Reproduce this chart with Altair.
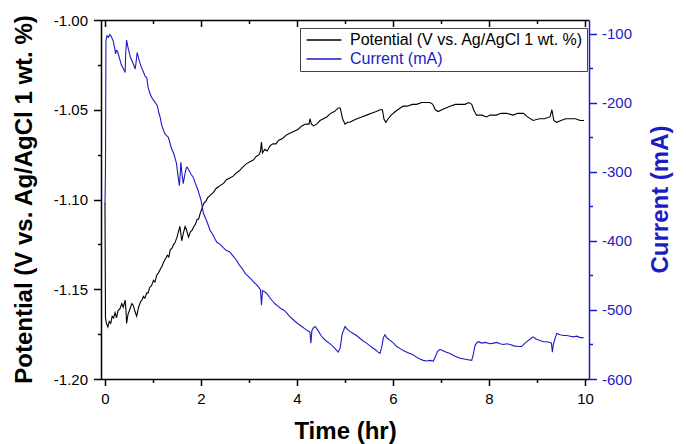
import altair as alt
import pandas as pd

POT = "Potential (V vs. Ag/AgCl 1 wt. %)"
CUR = "Current (mA)"
BLUE = "#1c1cc4"

t_pot = [0.00, 0.01, 0.03, 0.06, 0.09, 0.12, 0.15, 0.18, 0.21, 0.24, 0.27, 0.31, 0.35, 0.38, 0.42, 0.44,
         0.45, 0.48, 0.52, 0.56, 0.59, 0.62, 0.66, 0.70, 0.74, 0.77, 0.80, 0.83, 0.87, 0.90, 0.93, 0.97,
         1.01, 1.04, 1.08, 1.11, 1.15, 1.19, 1.22, 1.26, 1.30, 1.33, 1.36, 1.40, 1.43, 1.46, 1.50, 1.53,
         1.56, 1.58, 1.60, 1.63, 1.67, 1.70, 1.74, 1.78, 1.82, 1.85, 1.88, 1.92, 1.95, 1.98, 2.02, 2.06,
         2.10, 2.14, 2.18, 2.22, 2.26, 2.31, 2.36, 2.41, 2.47, 2.53, 2.60, 2.67, 2.74, 2.80, 2.87, 2.95,
         3.02, 3.09, 3.15, 3.21, 3.24, 3.26, 3.28, 3.33, 3.38, 3.44, 3.50, 3.56, 3.62, 3.70, 3.78, 3.86,
         3.94, 4.02, 4.10, 4.18, 4.25, 4.27, 4.30, 4.35, 4.41, 4.48, 4.55, 4.62, 4.70, 4.78, 4.86, 4.90,
         4.95, 5.00, 5.05, 5.10, 5.17, 5.25, 5.35, 5.45, 5.55, 5.65, 5.73, 5.78, 5.81, 5.85, 5.90, 5.96,
         6.05, 6.15, 6.21, 6.30, 6.40, 6.49, 6.60, 6.70, 6.77, 6.83, 6.88, 6.94, 7.02, 7.10, 7.19, 7.30,
         7.40, 7.50, 7.58, 7.64, 7.68, 7.74, 7.85, 7.95, 8.02, 8.15, 8.25, 8.37, 8.50, 8.60, 8.72, 8.80,
         8.92, 9.05, 9.15, 9.27, 9.31, 9.35, 9.41, 9.50, 9.60, 9.69, 9.80, 9.90, 9.98]
pot = [-1.102, -1.166, -1.169, -1.171, -1.168, -1.169, -1.165, -1.166, -1.163, -1.166, -1.162, -1.161, -1.158, -1.160, -1.156, -1.163,
       -1.169, -1.164, -1.161, -1.158, -1.159, -1.162, -1.165, -1.160, -1.157, -1.156, -1.154, -1.155, -1.152, -1.152, -1.149, -1.148,
       -1.145, -1.146, -1.142, -1.141, -1.139, -1.137, -1.135, -1.133, -1.131, -1.132, -1.128, -1.127, -1.125, -1.124, -1.121, -1.118,
       -1.115, -1.119, -1.123, -1.119, -1.115, -1.117, -1.121, -1.118, -1.117, -1.115, -1.114, -1.111, -1.111, -1.108, -1.105, -1.102,
       -1.101, -1.099, -1.098, -1.097, -1.096, -1.094, -1.093, -1.092, -1.091, -1.089, -1.088, -1.087, -1.085, -1.084, -1.082, -1.080,
       -1.079, -1.078, -1.076, -1.075, -1.073, -1.068, -1.074, -1.072, -1.073, -1.070, -1.069, -1.069, -1.067, -1.066, -1.064, -1.063,
       -1.062, -1.061, -1.059, -1.058, -1.058, -1.055, -1.058, -1.059, -1.058, -1.056, -1.055, -1.054, -1.052, -1.051, -1.049, -1.049,
       -1.055, -1.058, -1.057, -1.057, -1.056, -1.055, -1.054, -1.053, -1.052, -1.051, -1.050, -1.050, -1.055, -1.057, -1.055, -1.053,
       -1.051, -1.049, -1.048, -1.048, -1.047, -1.047, -1.046, -1.046, -1.046, -1.047, -1.050, -1.051, -1.050, -1.049, -1.048, -1.047,
       -1.047, -1.047, -1.046, -1.047, -1.050, -1.053, -1.053, -1.054, -1.053, -1.053, -1.052, -1.052, -1.053, -1.052, -1.052, -1.054,
       -1.056, -1.055, -1.055, -1.054, -1.050, -1.056, -1.057, -1.056, -1.055, -1.055, -1.055, -1.056, -1.056]

t_cur = [0.00, 0.01, 0.02, 0.04, 0.07, 0.10, 0.13, 0.17, 0.20, 0.22, 0.24, 0.26, 0.30, 0.34, 0.38, 0.42,
         0.43, 0.45, 0.48, 0.53, 0.58, 0.63, 0.65, 0.67, 0.71, 0.76, 0.80, 0.84, 0.87, 0.90, 0.93, 0.97,
         1.01, 1.05, 1.09, 1.12, 1.15, 1.18, 1.22, 1.25, 1.29, 1.32, 1.36, 1.39, 1.43, 1.46, 1.49, 1.52,
         1.55, 1.57, 1.58, 1.60, 1.63, 1.66, 1.69, 1.71, 1.75, 1.79, 1.84, 1.89, 1.94, 2.00, 2.05, 2.10,
         2.15, 2.19, 2.24, 2.29, 2.33, 2.40, 2.47, 2.53, 2.60, 2.67, 2.74, 2.80, 2.86, 2.92, 2.98, 3.04,
         3.09, 3.15, 3.20, 3.24, 3.26, 3.28, 3.33, 3.37, 3.43, 3.49, 3.54, 3.60, 3.66, 3.72, 3.78, 3.84,
         3.89, 3.95, 4.02, 4.10, 4.16, 4.22, 4.27, 4.29, 4.31, 4.34, 4.38, 4.44, 4.50, 4.55, 4.61, 4.67,
         4.72, 4.78, 4.82, 4.86, 4.90, 4.94, 5.00, 5.05, 5.10, 5.17, 5.24, 5.31, 5.38, 5.45, 5.52, 5.58,
         5.64, 5.69, 5.73, 5.77, 5.80, 5.83, 5.88, 5.94, 6.01, 6.08, 6.15, 6.22, 6.28, 6.35, 6.42, 6.50,
         6.56, 6.63, 6.70, 6.77, 6.84, 6.88, 6.93, 6.98, 7.04, 7.10, 7.19, 7.26, 7.33, 7.40, 7.48, 7.56,
         7.64, 7.67, 7.71, 7.75, 7.78, 7.85, 7.92, 8.02, 8.10, 8.16, 8.23, 8.30, 8.37, 8.44, 8.52, 8.60,
         8.68, 8.75, 8.82, 8.88, 8.92, 8.98, 9.05, 9.13, 9.20, 9.27, 9.30, 9.32, 9.34, 9.38, 9.41, 9.48,
         9.55, 9.62, 9.69, 9.76, 9.83, 9.90, 9.97]
cur = [-346, -300, -110, -103, -105, -101, -104, -110, -120, -129, -124, -125, -135, -145, -150, -156,
       -130, -109, -120, -134, -142, -151, -140, -127, -138, -149, -155, -162, -163, -178, -185, -192,
       -196, -200, -204, -214, -221, -232, -240, -245, -248, -250, -260, -267, -273, -280, -288, -305,
       -320, -300, -286, -300, -317, -305, -295, -293, -298, -303, -308, -318, -327, -341, -360, -368,
       -377, -385, -390, -397, -402, -405, -410, -414, -416, -422, -428, -435, -440, -447, -451, -455,
       -459, -463, -467, -471, -493, -472, -474, -476, -482, -487, -491, -494, -498, -500, -504, -509,
       -512, -516, -520, -524, -527, -530, -532, -548, -530, -526, -524, -530, -537, -541, -545, -548,
       -551, -555, -558, -561, -555, -535, -524, -528, -531, -534, -537, -541, -545, -548, -552, -555,
       -558, -561, -563, -552, -540, -536, -541, -544, -548, -553, -556, -559, -561, -563, -565, -569,
       -571, -573, -574, -573, -574, -568, -560, -557, -559, -561, -563, -566, -568, -570, -571, -572,
       -573, -565, -551, -547, -546, -548, -547, -549, -548, -547, -549, -550, -549, -550, -552, -553,
       -553, -548, -544, -541, -539, -542, -544, -546, -546, -547, -548, -561, -550, -540, -534, -536,
       -537, -537, -538, -539, -538, -540, -540]

x_ticks = list(range(0, 11))
pot_ticks = [-1.2, -1.175, -1.15, -1.125, -1.1, -1.075, -1.05, -1.025, -1.0]
cur_ticks = [-600, -550, -500, -450, -400, -350, -300, -250, -200, -150, -100]

df_pot = pd.DataFrame({"t": t_pot, "v": pot, "series": POT})
df_cur = pd.DataFrame({"t": t_cur, "v": cur, "series": CUR})

FONT = "Liberation Sans"
x_scale = alt.Scale(domain=[-0.083, 10.083], nice=False, zero=False)

color = alt.Color(
    "series:N",
    scale=alt.Scale(domain=[POT, CUR], range=["#000000", BLUE]),
    legend=alt.Legend(
        title=None, orient="none", legendX=199, legendY=8,
        strokeColor="#444444", fillColor="#ffffff", padding=4, cornerRadius=0,
        symbolType="M-5,0H5", symbolSize=49, symbolStrokeWidth=1.5,
        symbolOffset=12, labelOffset=18, rowPadding=3,
        labelFont=FONT, labelFontSize=16, labelLimit=0,
        labelColor=alt.ExprRef(expr=f"datum.label == '{CUR}' ? '{BLUE}' : '#000000'"),
    ),
)

pot_line = alt.Chart(df_pot).mark_line(strokeWidth=1.1).encode(
    x=alt.X("t:Q", scale=x_scale, axis=alt.Axis(
        orient="bottom", values=x_ticks, title="Time (hr)",
        tickSize={"condition": {"test": "datum.value % 2 !== 0", "value": 3.5}, "value": 6.5},
        labelExpr="datum.value % 2 !== 0 ? '' : datum.label",
        labelPadding=6, titleY=59, titleX=244, titleBaseline="alphabetic",
        domainColor="#000000", tickColor="#000000", labelColor="#000000", titleColor="#000000",
    )),
    y=alt.Y("v:Q", scale=alt.Scale(domain=[-1.2, -1.0], nice=False, zero=False), axis=alt.Axis(
        orient="left", values=pot_ticks, title=POT,
        tickSize={"condition": {"test": "round(datum.value*1000) % 50 !== 0", "value": 3.5}, "value": 7.5},
        labelExpr="round(datum.value*1000) % 50 !== 0 ? '' : '-' + format(abs(datum.value), '.2f')",
        labelPadding=6, titleX=-77, titleY=179, titleAngle=270, titleBaseline="middle",
        domainColor="#000000", tickColor="#000000", labelColor="#000000", titleColor="#000000",
    )),
    color=color,
)

cur_line = alt.Chart(df_cur).mark_line(strokeWidth=1.1).encode(
    x=alt.X("t:Q", scale=x_scale, axis=alt.Axis(
        orient="bottom", offset=-359, values=x_ticks, title=None, labels=False,
        tickSize={"condition": {"test": "datum.value % 2 !== 0", "value": 3.5}, "value": 6.5},
        domainColor="#000000", tickColor="#000000",
    )),
    y=alt.Y("v:Q", scale=alt.Scale(domain=[-600, -80], nice=False, zero=False), axis=alt.Axis(
        orient="right", values=cur_ticks, title=CUR,
        tickSize={"condition": {"test": "datum.value % 100 !== 0", "value": 3.5}, "value": 7.5},
        labelExpr="datum.value % 100 !== 0 ? '' : '-' + format(abs(datum.value), 'd')",
        labelPadding=5, titleX=71, titleY=179, titleAngle=270, titleBaseline="middle",
        domainColor=BLUE, tickColor=BLUE, labelColor=BLUE, titleColor=BLUE,
    )),
    color=color,
)

chart = alt.layer(pot_line, cur_line).resolve_scale(
    y="independent"
).resolve_axis(
    x="independent", y="independent"
).properties(
    width=488, height=359,
    padding={"left": 101, "top": 20, "right": 97, "bottom": 65},
    autosize="none",
).configure_view(
    stroke=None
).configure_axis(
    grid=False, labelFont=FONT, titleFont=FONT, labelFontSize=15, titleFontSize=24,
    titleFontWeight="bold", domainWidth=1.5, tickWidth=1.5,
)

chart.save("out.html", embed_options={"renderer": "svg", "actions": False})
